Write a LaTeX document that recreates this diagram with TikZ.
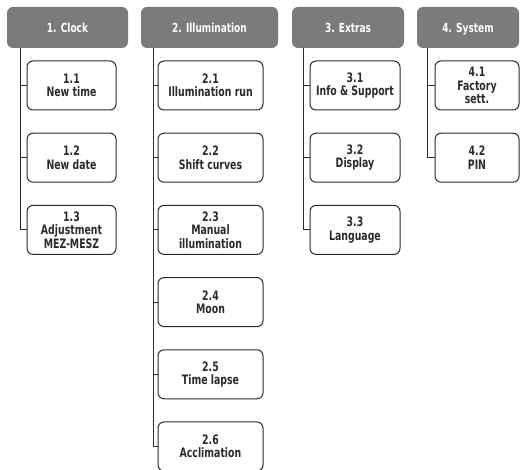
\documentclass[tikz,border=0pt]{standalone}
\usepackage{fontspec}
\setmainfont{DejaVu Sans Condensed}[FakeStretch=0.8]
\usetikzlibrary{positioning}

\definecolor{headgray}{HTML}{7B7B7B}
\definecolor{linegray}{HTML}{2B2B2B}

\tikzset{
  menuhead/.style={
    fill=headgray, text=white, rounded corners=6pt,
    minimum height=41pt, inner sep=0pt,
    text height=11.5pt, text depth=0.5pt,
    font=\bfseries\fontsize{12.5}{14}\selectfont
  },
  menuitem/.style={
    draw=linegray, line width=1pt, fill=white, text=linegray,
    rounded corners=6pt, minimum height=49pt, inner sep=0pt,
    align=center, font=\bfseries\fontsize{13}{13.5}\selectfont
  },
  branch/.style={draw=linegray, line width=1pt}
}

\begin{document}
\begin{tikzpicture}[
  x={(1pt,0pt)},
  y={(0pt,-1pt)}
]
\useasboundingbox (0,0) rectangle (520,470);

% headers
\node[menuhead, minimum width=121pt] (h1) at (67.5,27.5) {1. Clock};
\node[menuhead, minimum width=137pt] (h2) at (209.5,27.5) {2. Illumination};
\node[menuhead, minimum width=112pt] (h3) at (348,27.5) {3. Extras};
\node[menuhead, minimum width=102pt] (h4) at (468,27.5) {4. System};

% 1. Clock
\node[menuitem, minimum width=89pt] (c11) at (71.5,85.5) {1.1\\New time};
\node[menuitem, minimum width=89pt] (c12) at (71.5,157.7) {1.2\\New date};
\node[menuitem, minimum width=89pt] (c13) at (71.5,229.9) {1.3\\Adjustment\\MEZ-MESZ};

% 2. Illumination
\node[menuitem, minimum width=105pt] (c21) at (210.5,85.5) {2.1\\Illumination run};
\node[menuitem, minimum width=105pt] (c22) at (210.5,157.7) {2.2\\Shift curves};
\node[menuitem, minimum width=105pt] (c23) at (210.5,229.9) {2.3\\Manual\\illumination};
\node[menuitem, minimum width=105pt] (c24) at (210.5,302.1) {2.4\\Moon};
\node[menuitem, minimum width=105pt] (c25) at (210.5,374.3) {2.5\\Time lapse};
\node[menuitem, minimum width=105pt] (c26) at (210.5,446.5) {2.6\\Acclimation};

% 3. Extras
\node[menuitem, minimum width=90pt] (c31) at (355,85.5) {3.1\\Info \& Support};
\node[menuitem, minimum width=90pt] (c32) at (355,157.7) {3.2\\Display};
\node[menuitem, minimum width=90pt] (c33) at (355,229.9) {3.3\\Language};

% 4. System
\node[menuitem, minimum width=84pt] (c41) at (477,85.5) {4.1\\Factory\\sett.};
\node[menuitem, minimum width=84pt] (c42) at (477,157.7) {4.2\\PIN};

% trunks
\coordinate (t1) at (20,48);
\coordinate (t2) at (153,48);
\coordinate (t3) at (303,48);
\coordinate (t4) at (427.5,48);

\draw[branch] (t1) |- (c13.west);
\draw[branch] (t2) |- (c26.west);
\draw[branch] (t3) |- (c33.west);
\draw[branch] (t4) |- (c42.west);

\foreach \t/\c in {t1/c11,t1/c12,t2/c21,t2/c22,t2/c23,t2/c24,t2/c25,t3/c31,t3/c32,t4/c41}
  \draw[branch] (\t |- \c.west) -- (\c.west);
\end{tikzpicture}
\end{document}
